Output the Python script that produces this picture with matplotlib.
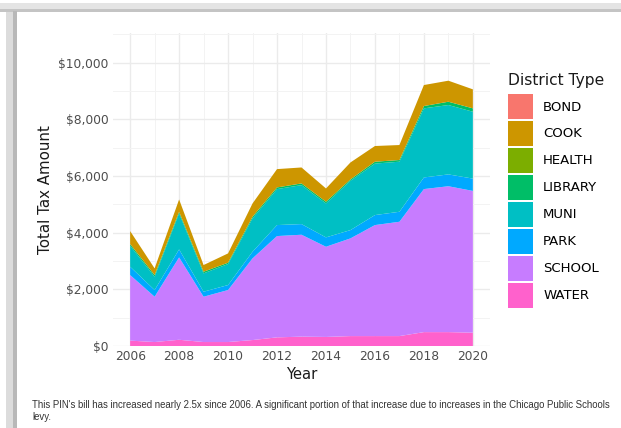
import matplotlib
matplotlib.use("Agg")
import matplotlib.pyplot as plt
from matplotlib.patches import Rectangle, Patch
from matplotlib.ticker import FuncFormatter, MultipleLocator

years = list(range(2006, 2021))
district_types = ["BOND", "COOK", "HEALTH", "LIBRARY", "MUNI", "PARK", "SCHOOL", "WATER"]
colors = ["#F8766D", "#CD9600", "#7CAE00", "#00BE67", "#00BFC4", "#00A9FF", "#C77CFF", "#FF61CC"]

# values (dollars)
bond = [0] * 15
cook = [457, 235, 435, 236, 329, 470, 647, 564, 470, 600, 554, 529, 741, 742, 671]
health = [0] * 15
library = [60, 59, 59, 58, 47, 59, 59, 59, 59, 47, 66, 60, 82, 117, 119]
muni = [741, 470, 1270, 647, 741, 1176, 1270, 1376, 1199, 1741, 1818, 1767, 2440, 2449, 2361]
park = [294, 236, 282, 177, 176, 235, 388, 376, 330, 293, 353, 353, 410, 418, 435]
school = [2315, 1600, 2908, 1600, 1836, 2883, 3576, 3598, 3184, 3449, 3919, 4036, 5050, 5150, 5005]
water = [190, 140, 220, 140, 140, 210, 305, 330, 320, 350, 350, 350, 490, 490, 470]

fig = plt.figure(figsize=(6.21, 4.28), dpi=100)

# card border / shadow
fig.patches.append(Rectangle((0, 1 - 12 / 428), 1, 9 / 428, transform=fig.transFigure,
                             facecolor="#e4e4e4", edgecolor="none", zorder=-5))
fig.patches.append(Rectangle((0, 1 - 12 / 428), 1, 3 / 428, transform=fig.transFigure,
                             facecolor="#c4c4c4", edgecolor="none", zorder=-4))
fig.patches.append(Rectangle((6 / 621, 0), 11 / 621, 1 - 9 / 428, transform=fig.transFigure,
                             facecolor="#dcdcdc", edgecolor="none", zorder=-5))
fig.patches.append(Rectangle((13 / 621, 0), 4 / 621, 1 - 11 / 428, transform=fig.transFigure,
                             facecolor="#b8b8b8", edgecolor="none", zorder=-4))

ax = fig.add_axes([113 / 621, 1 - 346 / 428, 377 / 621, 313 / 428])

# ggplot stacks the first level on top, so draw from the bottom up
stack = [water, school, park, muni, library, health, cook, bond]
ax.stackplot(years, stack, colors=colors[::-1], linewidth=0, zorder=2)

ax.set_xlim(2005.3, 2020.7)
ax.set_ylim(0, 11050)
ax.xaxis.set_major_locator(MultipleLocator(2))
ax.xaxis.set_minor_locator(MultipleLocator(1))
ax.yaxis.set_major_locator(MultipleLocator(2000))
ax.yaxis.set_minor_locator(MultipleLocator(1000))
ax.yaxis.set_major_formatter(FuncFormatter(lambda v, p: "${:,.0f}".format(v)))
ax.grid(which="major", color="#ebebeb", linewidth=1.0, zorder=0)
ax.grid(which="minor", color="#f3f3f3", linewidth=0.7, zorder=0)
ax.set_axisbelow(True)
for s in ax.spines.values():
    s.set_visible(False)
ax.tick_params(which="both", length=0)
ax.tick_params(axis="both", labelsize=8.8, labelcolor="#4d4d4d", pad=3)

ax.set_xlabel("Year", fontsize=10.6, color="#1a1a1a", labelpad=3)
ax.set_ylabel("Total Tax Amount", fontsize=10.8, color="#1a1a1a", labelpad=4)

# legend title drawn on its own so the gap to the keys can match
fig.text(508 / 621, 1 - 80 / 428, "District Type", fontsize=11.2, color="#1a1a1a",
         va="center", ha="left")
handles = [Patch(facecolor=c, edgecolor="none") for c in colors]
leg = ax.legend(handles, district_types, loc="upper left",
                bbox_to_anchor=(508 / 621, 1 - 94 / 428), bbox_transform=fig.transFigure,
                frameon=False, fontsize=9.5,
                handlelength=1.9, handleheight=2.54, labelspacing=0.145,
                handletextpad=0.76, borderpad=0, borderaxespad=0)

fig.text(32 / 621, 1 - 411 / 428,
         "This PIN's bill has increased nearly 2.5x since 2006. A significant portion of that "
         "increase due to increases in the Chicago Public Schools\nlevy.",
         fontsize=6.9, family="Liberation Sans", color="#333333", va="center",
         linespacing=1.35)

fig.savefig("out.png", dpi=100)
